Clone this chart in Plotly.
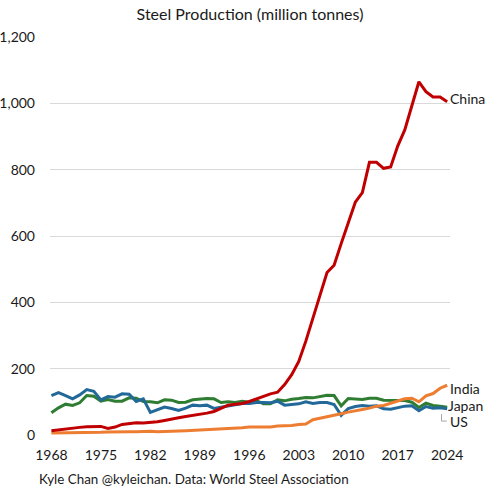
import plotly.graph_objects as go

years = list(range(1968, 2025))

china = [13, 16, 18, 21, 23, 25, 25, 26, 20, 24, 32, 35, 37, 36, 37, 40, 44, 47, 52, 56, 59, 62, 66, 71, 81, 90, 93, 95, 101, 109, 115, 124, 129, 152, 182, 222, 283, 356, 421, 490, 512, 577, 639, 702, 731, 822, 822, 804, 808, 871, 920, 996, 1065, 1035, 1019, 1019, 1005]
india = [6, 6, 6, 6, 7, 7, 7, 8, 9, 10, 10, 10, 10, 11, 11, 10, 10, 12, 12, 13, 14, 15, 15, 17, 18, 18, 19, 22, 24, 24, 24, 24, 27, 27, 29, 32, 33, 46, 50, 54, 58, 64, 69, 74, 77, 81, 87, 89, 96, 102, 109, 111, 100, 118, 125, 141, 150]
japan = [67, 82, 93, 89, 97, 119, 117, 102, 107, 102, 102, 112, 111, 101, 100, 97, 106, 105, 98, 99, 106, 108, 110, 109, 98, 100, 98, 102, 99, 104, 94, 94, 106, 103, 108, 110, 113, 112, 116, 120, 119, 88, 110, 108, 107, 111, 111, 105, 105, 105, 104, 99, 83, 96, 89, 87, 84]
us = [119, 128, 119, 109, 121, 137, 132, 106, 116, 114, 124, 123, 101, 109, 68, 77, 84, 80, 74, 81, 90, 88, 90, 80, 84, 89, 91, 95, 95, 98, 98, 97, 102, 90, 92, 94, 100, 95, 98, 98, 92, 59, 80, 86, 89, 87, 88, 79, 78, 82, 87, 88, 73, 86, 81, 82, 79]

series = [
    ("Japan", japan, "#2E7D32"),
    ("US", us, "#22699A"),
    ("India", india, "#ED7D31"),
    ("China", china, "#C00000"),
]

label_pos = {"China": 1016, "India": 139, "Japan": 90, "US": 42}

tick_years = list(range(1968, 2025, 7))
y_ticks = [0, 200, 400, 600, 800, 1000, 1200]

FONT = "Lato"

fig = go.Figure()
for name, vals, color in series:
    fig.add_trace(go.Scatter(x=years, y=vals, mode="lines", name=name,
                             line=dict(color=color, width=3), showlegend=False))
    fig.add_annotation(x=years[-1], y=label_pos[name], text=name, xref="x", yref="y",
                       xanchor="left", yanchor="middle", showarrow=False,
                       xshift=1 if name != "Japan" else -1,
                       font=dict(family=FONT, size=14, color="#1a1a1a"))

# leader line for US label
fig.add_shape(type="path", path="M 2023.2,63 L 2023.2,42 L 2023.95,42",
              xref="x", yref="y", line=dict(color="#a6a6a6", width=1))

fig.update_layout(
    width=500, height=493,
    margin=dict(l=50, r=50, t=37, b=58, autoexpand=False),
    paper_bgcolor="white", plot_bgcolor="white",
    title=dict(text="Steel Production (million tonnes)", x=0.5, xanchor="center",
               y=1 - 14 / 493, yanchor="middle", yref="container",
               font=dict(family=FONT, size=16, color="#1a1a1a")),
    font=dict(family=FONT, size=14, color="#1a1a1a"),
)
fig.update_xaxes(range=[1967.8, 2024.4], tickvals=tick_years, ticktext=[str(t) for t in tick_years],
                 showgrid=False, zeroline=False, showline=False, ticks="", ticklabelstandoff=10,
                 automargin=False,
                 tickfont=dict(family=FONT, size=14, color="#1a1a1a"))
fig.update_yaxes(range=[0, 1200], tickvals=y_ticks, tickformat=",d",
                 showgrid=True, gridcolor="#d9d9d9", gridwidth=1, zeroline=False,
                 showline=False, ticks="", ticklabelstandoff=14, automargin=False,
                 tickfont=dict(family=FONT, size=14, color="#1a1a1a"))

fig.add_annotation(text="Kyle Chan @kyleichan. Data: World Steel Association",
                   xref="paper", yref="paper", x=-13 / 400, y=-(479 - 435) / 398,
                   xanchor="left", yanchor="middle", showarrow=False,
                   font=dict(family=FONT, size=13.4, color="#1a1a1a"))

fig.write_html("out.html")
